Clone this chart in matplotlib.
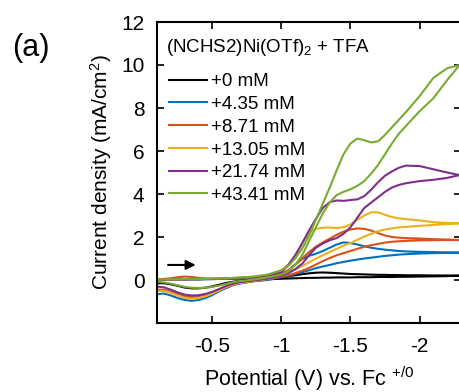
import numpy as np
import matplotlib
matplotlib.use("Agg")
import matplotlib.pyplot as plt

plt.rcParams['font.family'] = ['Liberation Sans', 'DejaVu Sans']
plt.rcParams['mathtext.fontset'] = 'custom'
plt.rcParams['mathtext.rm'] = 'Liberation Sans'
plt.rcParams['mathtext.it'] = 'Liberation Sans:italic'
plt.rcParams['axes.unicode_minus'] = False

# potential grid (V vs Fc+/0), forward scan direction
potential = [-0.10, -0.15, -0.20, -0.25, -0.30, -0.35, -0.40, -0.45, -0.50, -0.55,
             -0.60, -0.65, -0.70, -0.80, -0.90, -1.00, -1.05, -1.10, -1.15, -1.20,
             -1.25, -1.30, -1.35, -1.40, -1.45, -1.50, -1.55, -1.60, -1.65, -1.70,
             -1.75, -1.80, -1.85, -1.90, -2.00, -2.10, -2.20, -2.29]

labels = ['+0 mM', '+4.35 mM', '+8.71 mM', '+13.05 mM', '+21.74 mM', '+43.41 mM']
colors = ['#000000', '#0072BD', '#D95319', '#EDB120', '#7E2F8E', '#77AC30']

# current density (mA/cm2) on forward and return scans, same potential grid
black_fwd = [0.00, 0.01, 0.02, 0.03, 0.03, 0.03, 0.03, 0.04, 0.04, 0.05, 0.05, 0.06, 0.07, 0.08, 0.10, 0.15, 0.18, 0.22, 0.27, 0.31,
             0.34, 0.35, 0.34, 0.32, 0.30, 0.28, 0.27, 0.26, 0.25, 0.24, 0.24, 0.23, 0.23, 0.22, 0.22, 0.21, 0.21, 0.20]
black_rev = [-0.15, -0.15, -0.20, -0.27, -0.35, -0.39, -0.39, -0.36, -0.30, -0.22, -0.14, -0.08, -0.04, 0.00, 0.03, 0.06, 0.07, 0.08, 0.09, 0.10,
             0.10, 0.11, 0.11, 0.12, 0.12, 0.12, 0.13, 0.13, 0.13, 0.14, 0.14, 0.14, 0.15, 0.15, 0.16, 0.17, 0.18, 0.20]

blue_fwd = [0.00, 0.01, 0.02, 0.03, 0.04, 0.04, 0.04, 0.04, 0.05, 0.05, 0.06, 0.07, 0.08, 0.10, 0.15, 0.25, 0.45, 0.72, 0.98, 1.12,
            1.22, 1.35, 1.50, 1.65, 1.75, 1.72, 1.65, 1.57, 1.50, 1.45, 1.41, 1.38, 1.35, 1.33, 1.31, 1.30, 1.28, 1.27]
blue_rev = [-0.66, -0.63, -0.72, -0.84, -0.93, -0.97, -0.93, -0.84, -0.70, -0.52, -0.38, -0.24, -0.16, -0.06, 0.00, 0.14, 0.20, 0.28, 0.36, 0.45,
            0.55, 0.63, 0.70, 0.78, 0.84, 0.90, 0.95, 1.00, 1.04, 1.08, 1.12, 1.15, 1.18, 1.20, 1.23, 1.25, 1.26, 1.27]

orange_fwd = [0.02, 0.05, 0.08, 0.13, 0.16, 0.14, 0.10, 0.07, 0.06, 0.06, 0.07, 0.08, 0.09, 0.12, 0.18, 0.30, 0.45, 0.70, 1.00, 1.30,
              1.55, 1.75, 1.92, 2.10, 2.25, 2.35, 2.40, 2.38, 2.30, 2.18, 2.07, 2.00, 1.97, 1.95, 1.93, 1.90, 1.88, 1.86]
orange_rev = [-0.45, -0.45, -0.54, -0.66, -0.76, -0.80, -0.78, -0.71, -0.60, -0.47, -0.34, -0.22, -0.14, -0.05, 0.03, 0.15, 0.22, 0.32, 0.43, 0.56,
              0.72, 0.88, 1.02, 1.15, 1.25, 1.35, 1.45, 1.55, 1.62, 1.68, 1.74, 1.78, 1.80, 1.82, 1.84, 1.85, 1.86, 1.86]

yellow_fwd = [0.00, 0.01, 0.02, 0.03, 0.04, 0.04, 0.05, 0.05, 0.06, 0.07, 0.08, 0.09, 0.11, 0.15, 0.22, 0.45, 0.70, 1.10, 1.70, 2.22,
              2.38, 2.43, 2.44, 2.42, 2.45, 2.58, 2.80, 3.00, 3.15, 3.15, 3.03, 2.93, 2.87, 2.83, 2.77, 2.69, 2.65, 2.64]
yellow_rev = [-0.51, -0.51, -0.60, -0.72, -0.83, -0.87, -0.84, -0.76, -0.63, -0.48, -0.33, -0.20, -0.13, -0.04, 0.05, 0.22, 0.33, 0.48, 0.65, 0.82,
              1.00, 1.15, 1.30, 1.45, 1.60, 1.72, 1.87, 2.02, 2.15, 2.27, 2.35, 2.40, 2.45, 2.47, 2.52, 2.56, 2.60, 2.64]

purple_fwd = [0.00, 0.01, 0.02, 0.03, 0.03, 0.04, 0.04, 0.05, 0.05, 0.06, 0.07, 0.08, 0.10, 0.13, 0.20, 0.35, 0.70, 1.15, 1.70, 2.30,
              2.85, 3.35, 3.62, 3.70, 3.68, 3.72, 3.75, 3.90, 4.20, 4.55, 4.85, 5.05, 5.22, 5.32, 5.30, 5.15, 5.00, 4.88]
purple_rev = [-0.31, -0.34, -0.45, -0.58, -0.68, -0.72, -0.71, -0.65, -0.55, -0.42, -0.28, -0.17, -0.10, -0.02, 0.06, 0.20, 0.32, 0.50, 0.75, 1.15,
              1.50, 1.70, 1.85, 1.95, 2.15, 2.45, 2.90, 3.35, 3.60, 3.85, 4.10, 4.30, 4.42, 4.50, 4.60, 4.66, 4.75, 4.88]

green_fwd = [0.00, 0.02, 0.03, 0.04, 0.05, 0.05, 0.05, 0.05, 0.06, 0.07, 0.08, 0.10, 0.12, 0.16, 0.25, 0.45, 0.65, 1.00, 1.45, 2.05,
             2.80, 3.55, 4.30, 5.10, 5.85, 6.35, 6.58, 6.50, 6.40, 6.45, 6.75, 7.10, 7.45, 7.80, 8.55, 9.40, 9.85, 10.00]
green_rev = [-0.08, -0.11, -0.17, -0.25, -0.32, -0.36, -0.37, -0.36, -0.32, -0.26, -0.18, -0.10, -0.05, 0.02, 0.12, 0.25, 0.40, 0.70, 1.15, 1.80,
             2.45, 3.10, 3.60, 3.95, 4.10, 4.22, 4.38, 4.60, 4.95, 5.35, 5.85, 6.35, 6.80, 7.15, 7.85, 8.45, 9.30, 10.00]

forward = [black_fwd, blue_fwd, orange_fwd, yellow_fwd, purple_fwd, green_fwd]
reverse = [black_rev, blue_rev, orange_rev, yellow_rev, purple_rev, green_rev]

fig = plt.figure(figsize=(4.6, 3.92), dpi=100)
ax = fig.add_axes([157 / 460, 1 - 323 / 392, (461 - 157) / 460, (323 - 22) / 392])

v = np.array(potential)
handles = []
for fwd, rev, c, lab in zip(forward, reverse, colors, labels):
    x = np.concatenate([v, v[::-1]])
    y = np.concatenate([fwd, rev[::-1]])
    h, = ax.plot(x, y, color=c, lw=1.5, label=lab)
    handles.append(h)

ax.set_xlim(-0.1, -2.3)
ax.set_ylim(-2, 12)
ax.set_xticks([-0.5, -1, -1.5, -2])
ax.set_xticklabels(['-0.5', '-1', '-1.5', '-2'])
ax.set_yticks([0, 2, 4, 6, 8, 10, 12])
ax.tick_params(direction='in', top=True, right=True, length=5, width=1.2,
               labelsize=15)
ax.tick_params(axis='y', pad=9)
ax.tick_params(axis='x', pad=10)
for s in ax.spines.values():
    s.set_linewidth(1.5)

ax.set_xlabel('Potential (V) vs. Fc $^{+/0}$', fontsize=15.5, labelpad=6)
ax.set_ylabel('Current density (mA/cm$^2$)', fontsize=15, labelpad=5)

ax.text(0.03, 0.915, '(NCHS2)Ni(OTf)$_2$ + TFA', transform=ax.transAxes,
        fontsize=13.5, va='center', ha='left')
ax.legend(handles=handles, loc='upper left', bbox_to_anchor=(0.04, 0.83),
          frameon=False, fontsize=13.5, handlelength=2.0, handletextpad=0.25,
          labelspacing=0.3, borderpad=0, borderaxespad=0)

# scan direction arrow
ax.annotate('', xy=(-0.40, 0.70), xytext=(-0.16, 0.70),
            arrowprops=dict(arrowstyle='-|>', color='black', lw=1.5,
                            mutation_scale=14))

fig.text(12 / 460, 1 - 48 / 392, '(a)', fontsize=22, va='center', ha='left')

fig.savefig('out.png', dpi=100)
